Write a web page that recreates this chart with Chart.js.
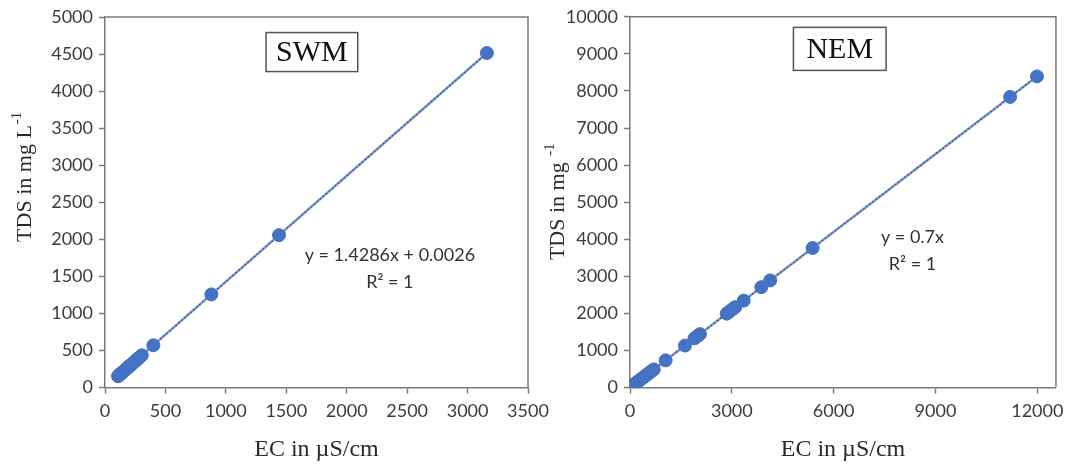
<!DOCTYPE html>
<html>
<head>
<meta charset="utf-8">
<script src="https://cdn.jsdelivr.net/npm/chart.js@4.4.1/dist/chart.umd.min.js"></script>
<style>
  body { margin: 0; background: #fff; }
  .panel { position: absolute; top: 0; height: 470px; }
  #p-swm { left: 0; width: 560px; z-index: 2; }
  #p-nem { left: 540px; width: 531px; z-index: 1; }
</style>
</head>
<body>
<div class="panel" id="p-nem"><canvas id="grafico-nem"></canvas></div>
<div class="panel" id="p-swm"><canvas id="grafico-swm"></canvas></div>
<script>
// Datos SWM (EC en µS/cm, TDS en mg/L)
const ecSWM = [108, 115, 122, 130, 138, 145, 152, 160, 168, 175, 183, 190, 198, 205, 215, 225, 235, 245, 255, 265, 275, 285, 295, 305, 400, 880, 1440, 3160];
const tdsSWM = [154, 164, 174, 186, 197, 207, 217, 229, 240, 250, 261, 271, 283, 293, 307, 321, 336, 350, 364, 379, 393, 407, 421, 436, 571, 1257, 2057, 4514];

// Datos NEM
const ecNEM = [30, 60, 100, 140, 180, 220, 260, 300, 350, 400, 450, 500, 550, 600, 650, 700, 1050, 1620, 1900, 2000, 2060, 2850, 2920, 2980, 3050, 3100, 3350, 3870, 4130, 5380, 11200, 11990];
const tdsNEM = [21, 42, 70, 98, 126, 154, 182, 210, 245, 280, 315, 350, 385, 420, 455, 490, 735, 1134, 1330, 1400, 1442, 1995, 2044, 2086, 2135, 2170, 2345, 2709, 2891, 3766, 7840, 8393];

// Ecuaciones de tendencia
const tendSWM = { pendiente: 1.4286, corte: 0.0026 };
const tendNEM = { pendiente: 0.7, corte: 0 };

// Ticks de los ejes
const ticksXSWM = [0, 500, 1000, 1500, 2000, 2500, 3000, 3500];
const ticksYSWM = [0, 500, 1000, 1500, 2000, 2500, 3000, 3500, 4000, 4500, 5000];
const ticksXNEM = [0, 3000, 6000, 9000, 12000];
const ticksYNEM = [0, 1000, 2000, 3000, 4000, 5000, 6000, 7000, 8000, 9000, 10000];

const fuenteTicks = "Lato, 'Noto Sans', sans-serif";
const fuenteSerif = "'Liberation Serif', 'DejaVu Serif', serif";

// Marco superior/derecho, título Y con superíndice y textos del área
const pluginNotas = {
    id: 'notas',
    afterDatasetsDraw(chart, args, opts) {
        const ctx = chart.ctx;
        const a = chart.chartArea;
        const sx = chart.scales.x, sy = chart.scales.y;
        ctx.save();
        ctx.strokeStyle = '#7a7a7a';
        ctx.lineWidth = 1.5;
        ctx.beginPath();
        ctx.moveTo(a.left, a.top);
        ctx.lineTo(a.right, a.top);
        ctx.lineTo(a.right, a.bottom);
        ctx.stroke();

        // Caja con el nombre
        const cx = sx.getPixelForValue(opts.caja.x);
        const cy = sy.getPixelForValue(opts.caja.y);
        ctx.font = '30px ' + fuenteSerif;
        const w = ctx.measureText(opts.caja.texto).width + 2 * opts.caja.pad;
        const h = opts.caja.alto;
        ctx.fillStyle = '#fff';
        ctx.fillRect(cx - w / 2, cy - h / 2, w, h);
        ctx.strokeStyle = '#555';
        ctx.lineWidth = 1.5;
        ctx.strokeRect(cx - w / 2, cy - h / 2, w, h);
        ctx.fillStyle = '#111';
        ctx.textAlign = 'center';
        ctx.textBaseline = 'middle';
        ctx.fillText(opts.caja.texto, cx, cy + 1);

        // Ecuación
        const ex = sx.getPixelForValue(opts.ecuacion.x);
        const ey = sy.getPixelForValue(opts.ecuacion.y);
        ctx.font = '18px ' + fuenteTicks;
        ctx.fillStyle = '#333';
        opts.ecuacion.lineas.forEach((t, i) => ctx.fillText(t, ex, ey + i * 27));

        // Título del eje Y (rotado, con superíndice)
        const t = opts.tituloY;
        ctx.translate(t.x, (a.top + a.bottom) / 2 + t.dy);
        ctx.rotate(-Math.PI / 2);
        ctx.textAlign = 'left';
        ctx.textBaseline = 'alphabetic';
        ctx.fillStyle = '#2a2a2a';
        ctx.font = '22px ' + fuenteSerif;
        const w1 = ctx.measureText(t.texto).width;
        ctx.font = '15px ' + fuenteSerif;
        const w2 = ctx.measureText(t.sup).width;
        const x0 = -(w1 + w2) / 2;
        ctx.font = '22px ' + fuenteSerif;
        ctx.fillText(t.texto, x0, 7);
        ctx.font = '15px ' + fuenteSerif;
        ctx.fillText(t.sup, x0 + w1 + 1, -3);
        ctx.restore();
    }
};

function lineaTendencia(xs, tend) {
    const x0 = Math.min(...xs), x1 = Math.max(...xs);
    return [
        { x: x0, y: tend.pendiente * x0 + tend.corte },
        { x: x1, y: tend.pendiente * x1 + tend.corte }
    ];
}

function crearGrafico(id, xs, ys, tend, cfg) {
    const puntos = xs.map((x, i) => ({ x: x, y: ys[i] }));
    const tendencia = lineaTendencia(xs, tend);
    return new Chart(document.getElementById(id), {
        type: 'scatter',
        data: {
            datasets: [
                {
                    data: puntos,
                    backgroundColor: '#4472C4',
                    borderColor: '#4472C4',
                    pointRadius: 6.5,
                    pointHoverRadius: 6.5,
                    order: 1
                },
                {
                    type: 'line',
                    data: tendencia,
                    borderColor: '#7b9ad4',
                    borderWidth: 2.5,
                    pointRadius: 0,
                    order: 3
                },
                {
                    type: 'line',
                    data: tendencia,
                    borderColor: '#4d5866',
                    borderWidth: 1.2,
                    borderDash: [2, 2],
                    pointRadius: 0,
                    order: 2
                }
            ]
        },
        options: {
            responsive: true,
            maintainAspectRatio: false,
            animation: false,
            layout: { padding: cfg.padding },
            plugins: {
                legend: { display: false },
                tooltip: { enabled: false },
                notas: cfg.notas
            },
            scales: {
                x: {
                    type: 'linear',
                    min: 0,
                    max: cfg.xMax,
                    afterBuildTicks: s => { s.ticks = cfg.ticksX.map(v => ({ value: v })); },
                    grid: { drawOnChartArea: false, drawTicks: true, tickLength: 6, color: '#7a7a7a', tickWidth: 1.5 },
                    border: { color: '#7a7a7a', width: 1.5 },
                    ticks: { font: { family: fuenteTicks, size: 18 }, color: '#3c3c3c', padding: 7, maxRotation: 0, callback: v => String(v) },
                    title: {
                        display: true,
                        text: 'EC in µS/cm',
                        font: { family: fuenteSerif, size: 24 },
                        color: '#2a2a2a',
                        padding: { top: 6, bottom: 6 }
                    }
                },
                y: {
                    type: 'linear',
                    min: 0,
                    max: cfg.yMax,
                    afterBuildTicks: s => { s.ticks = cfg.ticksY.map(v => ({ value: v })); },
                    afterFit: s => { s.width = cfg.anchoY; },
                    grid: { drawOnChartArea: false, drawTicks: true, tickLength: 6, color: '#7a7a7a', tickWidth: 1.5 },
                    border: { color: '#7a7a7a', width: 1.5 },
                    ticks: { font: { family: fuenteTicks, size: 18 }, color: '#3c3c3c', padding: 6, callback: v => String(v) }
                }
            }
        },
        plugins: [pluginNotas]
    });
}

crearGrafico('grafico-swm', ecSWM, tdsSWM, tendSWM, {
    xMax: 3500, yMax: 5000,
    ticksX: ticksXSWM, ticksY: ticksYSWM,
    anchoY: 105,
    padding: { top: 17, right: 32, bottom: 0, left: 0 },
    notas: {
        caja: { texto: 'SWM', x: 1712, y: 4527, pad: 10, alto: 39 },
        ecuacion: { x: 2357, y: 1784, lineas: ['y = 1.4286x + 0.0026', 'R² = 1'] },
        tituloY: { texto: 'TDS in mg L', sup: '-1', x: 24, dy: -25 }
    }
});

crearGrafico('grafico-nem', ecNEM, tdsNEM, tendNEM, {
    xMax: 12550, yMax: 10000,
    ticksX: ticksXNEM, ticksY: ticksYNEM,
    anchoY: 90,
    padding: { top: 15, right: 14, bottom: 0, left: 0 },
    notas: {
        caja: { texto: 'NEM', x: 6180, y: 9135, pad: 13, alto: 43 },
        ecuacion: { x: 8323, y: 4054, lineas: ['y = 0.7x', 'R² = 1'] },
        tituloY: { texto: 'TDS in mg ', sup: '-1', x: 17, dy: 0 }
    }
});
</script>
</body>
</html>
